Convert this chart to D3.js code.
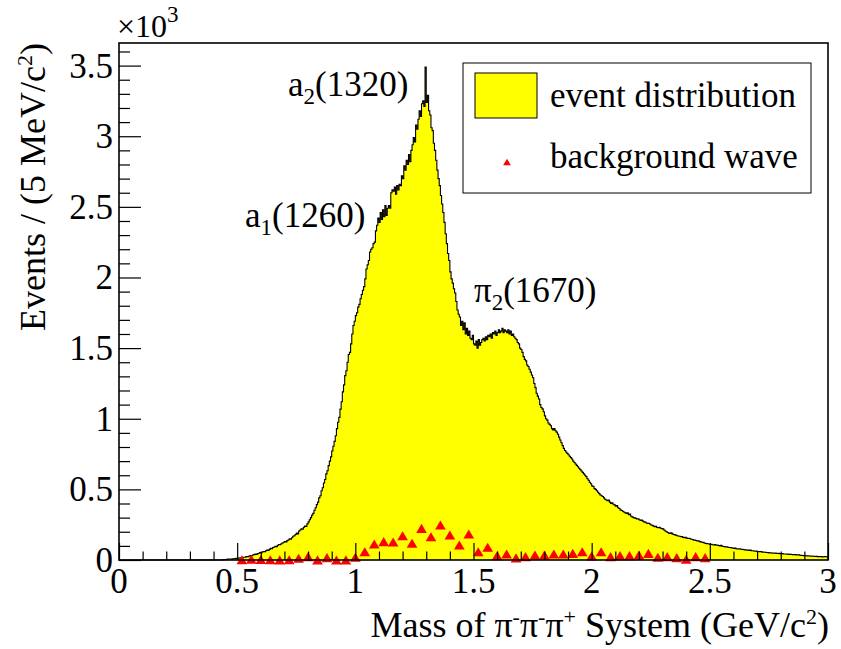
<!DOCTYPE html>
<html>
<head>
<meta charset="utf-8">
<script src="https://cdn.jsdelivr.net/npm/d3@7"></script>
<style>
  html, body { margin: 0; padding: 0; background: #fff; }
  svg { display: block; }
</style>
</head>
<body>
<svg id="chart" width="841" height="649" font-family="'Liberation Serif', 'Times New Roman', 'DejaVu Serif', serif"></svg>
<script>
// ---------------- DATA ----------------
// event distribution: counts per 5 MeV/c^2 bin, first bin starts at 0.44 GeV/c^2 (bins below are empty)
const binWidth = 0.005;
const firstBinLow = 0.44;
const eventCounts = [
  3,4,3,5,6,5,7,6,8,9,
  10,12,11,14,16,15,18,20,19,22,
  25,24,28,31,30,35,38,42,40,45,
  48,52,50,57,60,58,66,70,68,75,
  83,80,88,92,97,95,104,110,108,115,
  120,126,130,128,137,142,150,148,158,168,
  172,180,190,185,205,212,220,218,232,240,
  238,256,270,285,300,318,330,352,370,392,
  410,440,455,490,512,545,570,610,632,668,
  700,730,772,805,840,880,930,975,1010,1068,
  1120,1190,1240,1305,1340,1400,1455,1470,1530,1600,
  1660,1690,1730,1750,1790,1810,1850,1880,1910,1935,
  1990,2060,2090,2120,2180,2200,2210,2240,2250,2330,
  2370,2420,2390,2460,2410,2480,2430,2510,2440,2490,
  2510,2490,2600,2620,2610,2640,2590,2650,2620,2660,
  2650,2720,2700,2790,2760,2830,2800,2870,2820,2900,
  2940,2990,2960,3080,3050,3120,3180,3140,3230,3250,
  3210,3490,3240,3290,3180,3150,3060,3040,2950,2900,
  2830,2760,2700,2650,2580,2520,2460,2390,2310,2240,
  2170,2120,2040,1990,1960,1920,1890,1830,1770,1740,
  1720,1660,1690,1630,1680,1600,1640,1590,1620,1570,
  1560,1590,1530,1520,1550,1500,1560,1520,1540,1560,
  1570,1550,1580,1560,1590,1580,1600,1570,1610,1600,
  1620,1590,1610,1630,1610,1620,1640,1610,1630,1620,
  1610,1630,1600,1620,1590,1600,1580,1570,1560,1540,
  1530,1500,1490,1470,1440,1420,1410,1380,1370,1350,
  1330,1310,1290,1250,1220,1180,1160,1140,1100,1080,
  1070,1050,1020,1000,990,970,960,950,930,920,
  930,915,905,890,870,850,830,810,790,775,
  765,755,745,735,725,715,700,690,680,670,
  660,650,640,630,620,610,600,590,575,565,
  550,540,525,520,505,500,490,480,470,460,
  455,450,440,430,425,420,425,410,400,405,
  395,390,380,385,370,365,355,350,345,340,
  335,330,335,320,325,310,305,300,298,295,
  290,292,285,280,283,275,270,268,262,258,
  260,255,248,245,240,236,238,230,228,232,
  225,222,220,212,205,200,195,190,188,192,
  185,180,178,176,172,170,168,165,166,160,
  158,160,155,152,154,150,147,145,140,142,
  138,135,136,130,128,126,125,120,118,116,
  115,113,110,112,108,106,110,104,106,103,
  100,104,98,96,95,92,94,90,88,89,
  86,85,82,84,80,79,78,80,76,75,
  74,72,73,70,71,68,70,66,65,64,
  62,63,60,59,58,60,56,57,55,54,
  53,52,50,51,50,49,48,49,47,46,
  47,45,44,46,43,42,43,41,42,40,
  41,39,38,37,38,36,35,36,34,33,
  32,31,32,30,29,30,28,27,28,27,
  26,25,26,24,25,23,24,22,23,24,
  23,22
];

// background wave (red triangles)
const bkgMass = [0.52,0.56,0.60,0.64,0.68,0.72,0.76,0.80,0.84,0.88,
                 0.92,0.96,1.00,1.04,1.08,1.12,1.16,1.20,1.24,1.28,
                 1.32,1.36,1.40,1.44,1.48,1.52,1.56,1.60,1.64,1.68,
                 1.72,1.76,1.80,1.84,1.88,1.92,1.96,2.00,2.04,2.08,
                 2.12,2.16,2.20,2.24,2.28,2.32,2.36,2.40,2.44,2.48];
const bkgCounts = [2,5,3,2,1,2,12,24,1,17,
                   0,1,19,59,113,130,128,172,118,224,
                   165,248,177,106,184,59,90,31,42,15,
                   24,35,35,42,42,47,59,28,59,24,
                   31,31,35,47,19,24,17,5,24,17];

const xTicks = [0, 0.5, 1, 1.5, 2, 2.5, 3];
const xTickLabels = ["0", "0.5", "1", "1.5", "2", "2.5", "3"];
const yTicks = [0, 500, 1000, 1500, 2000, 2500, 3000, 3500];
const yTickLabels = ["0", "0.5", "1", "1.5", "2", "2.5", "3", "3.5"];

const legendLabels = ["event distribution", "background wave"];

// ---------------- LAYOUT ----------------
const L = 119, R = 828, T = 43, B = 560;
const xDomain = [0, 3], yDomain = [0, 3660];
const FONT = "'Liberation Serif', 'Times New Roman', 'DejaVu Serif', serif";

const svg = d3.select("#chart");
const x = d3.scaleLinear().domain(xDomain).range([L, R]);
const y = d3.scaleLinear().domain(yDomain).range([B, T]);

const FS = 35;      // tick labels, annotations
const FST = 36;     // axis titles

// histogram bins
const bins = eventCounts.map((v, i) => ({ lo: firstBinLow + i * binWidth, hi: firstBinLow + (i + 1) * binWidth, v }));

const pts = [[xDomain[0], 0], [firstBinLow, 0]];
bins.forEach(b => { pts.push([b.lo, b.v]); pts.push([b.hi, b.v]); });
pts.push([xDomain[1], 0]);

const area = d3.area().x(d => x(d[0])).y0(y(0)).y1(d => y(d[1]));
const line = d3.line().x(d => x(d[0])).y(d => y(d[1]));

svg.append("path").attr("d", area(pts)).attr("fill", "#ffff00").attr("stroke", "none");
svg.append("path").attr("d", line(pts.slice(0, pts.length - 1))).attr("fill", "none")
   .attr("stroke", "#000").attr("stroke-width", 1.1);

// triangles
const triangle = {
  draw(ctx, size) {
    const w = Math.sqrt(size * 1.2), h = w * 0.85;
    ctx.moveTo(0, -h / 2); ctx.lineTo(w / 2, h / 2); ctx.lineTo(-w / 2, h / 2); ctx.closePath();
  }
};
svg.append("g").selectAll("path").data(bkgMass.map((m, i) => [m, bkgCounts[i]])).join("path")
  .attr("transform", d => `translate(${x(d[0])},${y(d[1])})`)
  .attr("d", d3.symbol(triangle, 95))
  .attr("fill", "#ff0000");

// axes (ticks inside)
const xAxis = d3.axisTop(x).tickValues(d3.range(0, 3.0001, 0.1)).tickSize(8.5).tickFormat("");
const gx = svg.append("g").attr("transform", `translate(0,${B})`).call(xAxis);
gx.select(".domain").remove();
gx.selectAll(".tick line").attr("stroke", "#000").attr("stroke-width", 1.2)
  .attr("y2", d => (Math.abs(d * 2 - Math.round(d * 2)) < 1e-6 ? -17 : -8.5));

const yAxis = d3.axisRight(y).tickValues(d3.range(0, 3601, 100)).tickSize(11).tickFormat("");
const gy = svg.append("g").attr("transform", `translate(${L},0)`).call(yAxis);
gy.select(".domain").remove();
gy.selectAll(".tick line").attr("stroke", "#000").attr("stroke-width", 1.2)
  .attr("x2", d => (d % 500 === 0 ? 22 : 11));

// frame
svg.append("rect").attr("x", L).attr("y", T).attr("width", R - L).attr("height", B - T)
  .attr("fill", "none").attr("stroke", "#000").attr("stroke-width", 1.6);

const T_ = (sel) => sel.attr("font-family", FONT).attr("fill", "#000");

// tick labels
svg.append("g").selectAll("text").data(xTicks).join("text").call(T_)
  .attr("x", d => x(d)).attr("y", 593).attr("text-anchor", "middle")
  .attr("font-size", FS).text((d, i) => xTickLabels[i]);

svg.append("g").selectAll("text").data(yTicks).join("text").call(T_)
  .attr("x", 113).attr("y", d => y(d) + 12).attr("text-anchor", "end")
  .attr("font-size", FS).text((d, i) => yTickLabels[i]);

// exponent label
const ex = svg.append("text").call(T_).attr("x", 117).attr("y", 37).attr("font-size", 32);
ex.append("tspan").text("\u00d710");
ex.append("tspan").attr("font-size", 23).attr("dy", -15).text("3");

// axis titles
const xt = svg.append("text").call(T_).attr("x", 829).attr("y", 637).attr("text-anchor", "end").attr("font-size", FST);
xt.append("tspan").text("Mass of \u03c0");
xt.append("tspan").attr("font-size", 22).attr("dy", -13).text("-");
xt.append("tspan").attr("dy", 13).text("\u03c0");
xt.append("tspan").attr("font-size", 22).attr("dy", -13).text("-");
xt.append("tspan").attr("dy", 13).text("\u03c0");
xt.append("tspan").attr("font-size", 22).attr("dy", -13).text("+");
xt.append("tspan").attr("dy", 13).text(" System (GeV/c");
xt.append("tspan").attr("font-size", 22).attr("dy", -13).text("2");
xt.append("tspan").attr("dy", 13).text(")");

const yt = svg.append("text").call(T_).attr("transform", "translate(45,43) rotate(-90)")
  .attr("text-anchor", "end").attr("font-size", FST);
yt.append("tspan").text("Events / (5 MeV/c");
yt.append("tspan").attr("font-size", 22).attr("dy", -13).text("2");
yt.append("tspan").attr("dy", 13).text(")");

// peak annotations
function annot(xp, yp, base, sub, rest) {
  const t = svg.append("text").call(T_).attr("x", xp).attr("y", yp).attr("font-size", FS);
  t.append("tspan").text(base);
  t.append("tspan").attr("font-size", 23).attr("dy", 8).text(sub);
  t.append("tspan").attr("dy", -8).text(rest);
}
annot(288, 96, "a", "2", "(1320)");
annot(245, 227, "a", "1", "(1260)");
annot(474, 302, "\u03c0", "2", "(1670)");

// legend
const lg = svg.append("g");
lg.append("rect").attr("x", 463).attr("y", 63).attr("width", 348).attr("height", 130)
  .attr("fill", "#fff").attr("stroke", "#000").attr("stroke-width", 1);
lg.append("rect").attr("x", 475).attr("y", 73).attr("width", 62).attr("height", 45)
  .attr("fill", "#ffff00").attr("stroke", "#000").attr("stroke-width", 1);
lg.append("path").attr("transform", "translate(507,162)").attr("d", d3.symbol(triangle, 50)).attr("fill", "#ff0000");
lg.append("text").call(T_).attr("x", 550).attr("y", 107).attr("font-size", 35).text(legendLabels[0]);
lg.append("text").call(T_).attr("x", 550).attr("y", 168).attr("font-size", 35).text(legendLabels[1]);
</script>
</body>
</html>
